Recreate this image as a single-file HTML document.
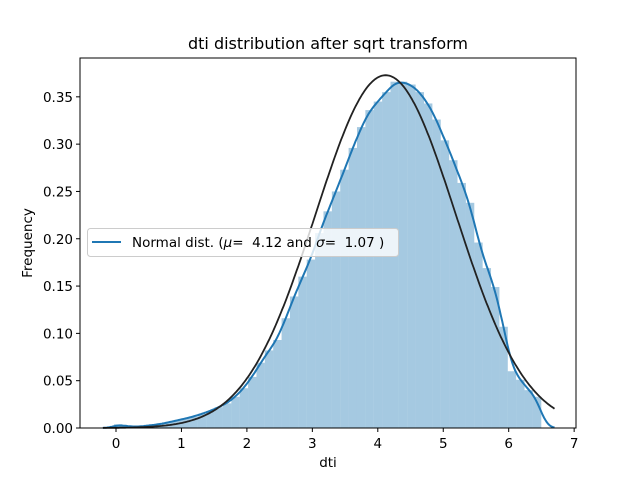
<!DOCTYPE html>
<html><head><meta charset="utf-8"><style>
body{margin:0;background:#fff;}
svg text{font-family:"DejaVu Sans","Liberation Sans",sans-serif;fill:#000;}
</style></head><body>
<svg id="chart" width="640" height="480" xmlns="http://www.w3.org/2000/svg">
<rect width="640" height="480" fill="#fff"/>
<g id="bars"></g>
<g id="lines"></g>
<rect x="80" y="58" width="496" height="370" fill="none" stroke="#000" stroke-width="1"/>
<g id="ticks"></g>
<text x="328" y="49" font-size="16" text-anchor="middle">dti distribution after sqrt transform</text>
<text x="328" y="467" font-size="13.5" text-anchor="middle">dti</text>
<text x="32" y="243" font-size="13.5" text-anchor="middle" transform="rotate(-90 32 243)">Frequency</text>
<g>
<rect x="87.5" y="228.5" width="311" height="28" rx="3" fill="#fff" fill-opacity="0.8" stroke="#ccc" stroke-width="1"/>
<line x1="92" y1="242" x2="121" y2="242" stroke="#1f77b4" stroke-width="2"/>
<text x="132" y="247" font-size="13.5" xml:space="preserve" style="white-space:pre">Normal dist. (<tspan font-style="italic">μ</tspan>=  4.12 and <tspan font-style="italic">σ</tspan>=  1.07 )</text>
</g>
</svg>
<script>
const binStart = -0.03;
const binWidth = 0.128;
const binHeights = [0.004,0.002,0.001,0.002,0.003,0.004,0.006,0.008,0.010,0.012,
0.015,0.018,0.022,0.026,0.033,0.042,0.054,0.069,0.082,0.093,
0.116,0.139,0.160,0.178,0.206,0.229,0.250,0.273,0.296,0.318,
0.336,0.345,0.355,0.366,0.366,0.363,0.355,0.343,0.326,0.304,
0.283,0.259,0.238,0.196,0.169,0.149,0.107,0.060,0.051,0.040,0.033];
const mu = 4.12, sigma = 1.07;
const xTicks = [0,1,2,3,4,5,6,7];
const yTicks = [0.00,0.05,0.10,0.15,0.20,0.25,0.30,0.35];

const NS="http://www.w3.org/2000/svg";
const X = v => 116 + (v-0)*65.45;
const Y = v => 428 - v*946.2;
function mk(tag, attrs, parent){const e=document.createElementNS(NS,tag);for(const k in attrs)e.setAttribute(k,attrs[k]);parent.appendChild(e);return e;}
const bars=document.getElementById('bars');
binHeights.forEach((h,i)=>{
  const x0=X(binStart+i*binWidth), x1=X(binStart+(i+1)*binWidth);
  const r=mk('rect',{x:x0,y:Y(h),width:x1-x0,height:Y(0)-Y(h),fill:'#1f77b4','fill-opacity':0.4},bars);
  
  
});
const lines=document.getElementById('lines');
const bw=0.1; let kd='';
for(let x=-0.2;x<=6.71;x+=0.02){
  let s=0;
  binHeights.forEach((h,i)=>{const c=binStart+(i+0.5)*binWidth;const z=(x-c)/bw;s+=h*binWidth*Math.exp(-0.5*z*z)/(bw*Math.sqrt(2*Math.PI));});
  kd+=(kd?'L':'M')+X(x).toFixed(1)+','+Y(s).toFixed(1);
}
const kde=mk('path',{d:kd,fill:'none',stroke:'#1f77b4','stroke-width':2},lines);


let nd='';
for(let x=-0.2;x<=6.71;x+=0.02){
  const z=(x-mu)/sigma;const p=Math.exp(-0.5*z*z)/(sigma*Math.sqrt(2*Math.PI));
  nd+=(nd?'L':'M')+X(x).toFixed(1)+','+Y(p).toFixed(1);
}
const norm=mk('path',{d:nd,fill:'none',stroke:'#222','stroke-width':1.8},lines);


const ticks=document.getElementById('ticks');
xTicks.forEach(t=>{
  mk('line',{x1:X(t),x2:X(t),y1:428,y2:432,stroke:'#000'},ticks);
  const tx=mk('text',{x:X(t),y:448,'font-size':13.5,'text-anchor':'middle'},ticks);
  tx.textContent=t;
  
  
});
yTicks.forEach(t=>{
  mk('line',{x1:76,x2:80,y1:Y(t),y2:Y(t),stroke:'#000'},ticks);
  const tx=mk('text',{x:73,y:Y(t)+5,'font-size':13.5,'text-anchor':'end'},ticks);
  tx.textContent=t.toFixed(2);
  
  
});
</script>
</body></html>
